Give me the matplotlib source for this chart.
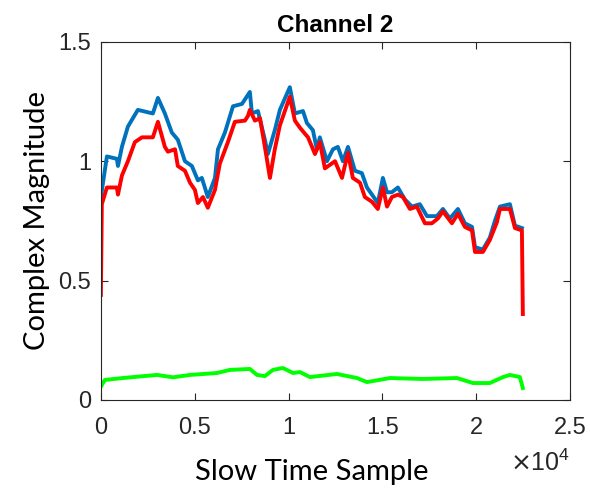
import matplotlib
matplotlib.use("Agg")
import matplotlib.pyplot as plt
from matplotlib.ticker import ScalarFormatter

# sample index (slow time) and magnitude
blue_x = [0, 320, 850, 910, 1120, 1440, 1970, 2770, 3040, 3410, 3780, 4100, 4480, 4850,
          5170, 5380, 5700, 6080, 6240, 6610, 7040, 7520, 7940, 8050, 8370, 8740, 8900,
          9270, 9540, 10070, 10340, 10770, 10980, 11300, 11510, 11670, 12050, 12370,
          12630, 12900, 13170, 13540, 13910, 14180, 14450, 14760, 15030, 15250, 15510,
          15830, 16200, 16580, 17000, 17380, 17910, 18230, 18600, 19030, 19400, 19780,
          19940, 20360, 20730, 21000, 21270, 21800, 22070, 22440]
blue_y = [0.85, 1.02, 1.01, 0.98, 1.06, 1.145, 1.215, 1.20, 1.265, 1.20, 1.12, 1.09, 1.00,
          0.98, 0.92, 0.93, 0.85, 0.93, 1.05, 1.12, 1.23, 1.24, 1.29, 1.20, 1.21, 1.09,
          1.03, 1.13, 1.215, 1.31, 1.20, 1.21, 1.16, 1.13, 1.05, 1.10, 1.00, 1.05, 1.06,
          1.00, 1.06, 0.96, 0.95, 0.89, 0.86, 0.825, 0.93, 0.87, 0.87, 0.89, 0.84, 0.81,
          0.82, 0.77, 0.77, 0.80, 0.76, 0.80, 0.74, 0.725, 0.64, 0.63, 0.68, 0.75, 0.81,
          0.82, 0.73, 0.72]

red_x = [0, 50, 320, 850, 910, 1120, 1440, 1810, 2190, 2770, 3040, 3410, 3570, 3950, 4100,
         4480, 4750, 5010, 5170, 5440, 5700, 6080, 6340, 6770, 7140, 7680, 7840, 7940,
         8210, 8480, 8740, 9010, 9270, 9540, 10070, 10340, 10610, 11040, 11410, 11670,
         11940, 12480, 12850, 13170, 13430, 13810, 14070, 14450, 14760, 15030, 15250,
         15510, 15830, 16100, 16470, 16840, 17270, 17640, 17960, 18230, 18710, 19030,
         19400, 19780, 19940, 20360, 20730, 21110, 21270, 21800, 22070, 22440, 22490]
red_y = [0.44, 0.82, 0.89, 0.89, 0.86, 0.94, 1.00, 1.08, 1.10, 1.10, 1.165, 1.06, 1.04,
         1.05, 0.98, 0.96, 0.91, 0.88, 0.825, 0.85, 0.805, 0.88, 0.99, 1.08, 1.165, 1.17,
         1.19, 1.215, 1.17, 1.18, 1.06, 0.93, 1.05, 1.15, 1.27, 1.17, 1.14, 1.10, 1.03,
         1.08, 0.97, 1.00, 0.93, 1.035, 0.93, 0.91, 0.85, 0.83, 0.80, 0.89, 0.81, 0.85,
         0.86, 0.85, 0.80, 0.81, 0.74, 0.74, 0.76, 0.79, 0.74, 0.78, 0.725, 0.71, 0.62,
         0.62, 0.67, 0.745, 0.80, 0.80, 0.72, 0.71, 0.36]

green_x = [0, 210, 1170, 2990, 3840, 4750, 6180, 6880, 7940, 8320, 8740, 9170, 9700,
           10240, 10610, 11140, 12580, 13650, 14180, 15410, 17160, 18980, 19830, 20730,
           21430, 21800, 22330, 22490]
green_y = [0.056, 0.084, 0.092, 0.105, 0.095, 0.105, 0.113, 0.126, 0.13, 0.105, 0.10,
           0.126, 0.134, 0.113, 0.117, 0.096, 0.109, 0.092, 0.075, 0.092, 0.088, 0.092,
           0.071, 0.071, 0.096, 0.105, 0.096, 0.05]

x_ticks = [0, 5000, 10000, 15000, 20000, 25000]
y_ticks = [0, 0.5, 1, 1.5]
y_tick_labels = ['0', '0.5', '1', '1.5']


class MatlabSci(ScalarFormatter):
    # plain '%g' tick labels (0, 0.5, 1 ...) with the x10^4 offset text
    def _set_format(self):
        self.format = '%g'


plt.rcParams['font.family'] = ['Liberation Sans', 'DejaVu Sans']
axis_grey = '#262626'

fig = plt.figure(figsize=(5.9, 4.92), dpi=100)
ax = fig.add_axes([0.171, 0.187, 0.795, 0.728])

ax.plot(blue_x, blue_y, color='#0072BD', linewidth=2.8)
ax.plot(red_x, red_y, color='#FF0000', linewidth=2.8)
ax.plot(green_x, green_y, color='#00FF00', linewidth=2.8)

ax.set_xlim(0, 25000)
ax.set_ylim(0, 1.5)
ax.set_xticks(x_ticks)
ax.set_yticks(y_ticks)
ax.set_yticklabels(y_tick_labels)
fmt = MatlabSci(useMathText=True)
fmt.set_powerlimits((0, 0))
ax.xaxis.set_major_formatter(fmt)
ax.xaxis.OFFSETTEXTPAD = 8
ax.xaxis.get_offset_text().set_fontsize(18)
ax.xaxis.get_offset_text().set_color(axis_grey)

ax.tick_params(direction='in', top=True, right=True, length=5, width=0.8,
               labelsize=17, colors=axis_grey)
ax.tick_params(axis='x', pad=12)
ax.tick_params(axis='y', pad=7)
for side in ax.spines.values():
    side.set_color(axis_grey)
    side.set_linewidth(0.8)

ax.set_title('Channel 2', fontsize=17.5, fontweight='bold', pad=7)
ax.set_xlabel('Slow Time Sample', fontsize=21, family=['Lato', 'DejaVu Sans'])
ax.xaxis.set_label_coords(0.45, -0.165)
ax.set_ylabel('Complex Magnitude', fontsize=21, family=['Lato', 'DejaVu Sans'], labelpad=6)

fig.savefig('out.png', dpi=100)
